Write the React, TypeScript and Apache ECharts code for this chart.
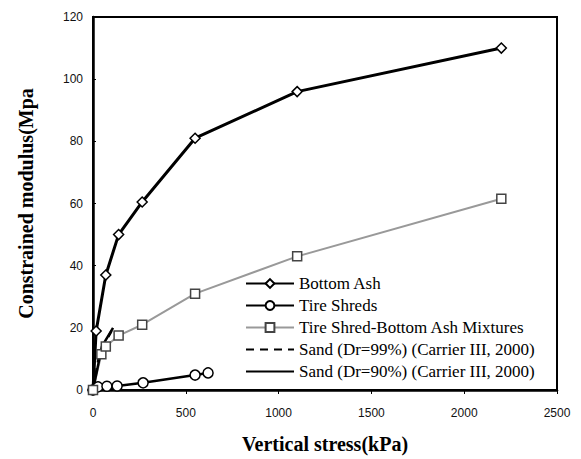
import React, { useEffect, useRef } from "react";
import * as echarts from "echarts";

const xTicks = [0, 500, 1000, 1500, 2000, 2500];
const yTicks = [0, 20, 40, 60, 80, 100, 120];

const bottomAsh: [number, number][] = [
  [0, 0], [17, 19], [69, 37], [138, 50], [265, 60.5], [550, 81], [1100, 96], [2200, 110],
];
const tireShreds: [number, number][] = [
  [0, 0], [27, 1], [75, 1.2], [130, 1.3], [270, 2.3], [550, 4.8], [620, 5.5],
];
const mixtures: [number, number][] = [
  [0, 0], [45, 11.5], [69, 14], [138, 17.5], [265, 21], [550, 31], [1100, 43], [2200, 61.5],
];
const sand99: [number, number][] = [[0, 0], [35, 12], [100, 19]];
const sand90: [number, number][] = [[0, 0], [48, 14], [108, 20]];

const names = [
  "Bottom Ash",
  "Tire Shreds",
  "Tire Shred-Bottom Ash Mixtures",
  "Sand (Dr=99%) (Carrier III, 2000)",
  "Sand (Dr=90%) (Carrier III, 2000)",
];

export default function App() {
  const ref = useRef<HTMLDivElement>(null);
  useEffect(() => {
    if (!ref.current) return;
    const chart = echarts.init(ref.current, null, { renderer: "svg" });
    const serif = "Liberation Serif";
    chart.setOption({
      animation: false,
      backgroundColor: "#fff",
      grid: {
        left: 93, right: 24, top: 17, bottom: 63,
        show: true, borderColor: "#000", borderWidth: 2, backgroundColor: "transparent",
      },
      xAxis: {
        type: "value", min: 0, max: 2500, interval: 500,
        name: "Vertical stress(kPa)", nameLocation: "middle", nameGap: 44,
        nameTextStyle: { fontFamily: serif, fontWeight: "bold", fontSize: 20, color: "#000" },
        axisLine: { show: true, lineStyle: { color: "#000", width: 2.5 } },
        axisTick: { show: true, length: 4, lineStyle: { color: "#000" } },
        axisLabel: { fontFamily: "Liberation Sans", fontSize: 12, color: "#111", margin: 17,
          formatter: (v: number) => (xTicks.includes(v) ? String(v) : "") },
        splitLine: { show: false },
      },
      yAxis: {
        type: "value", min: 0, max: 120, interval: 20,
        name: "Constrained modulus(Mpa", nameLocation: "middle", nameGap: 57,
        nameTextStyle: { fontFamily: serif, fontWeight: "bold", fontSize: 20, color: "#000" },
        axisLine: { show: true, lineStyle: { color: "#000", width: 2.5 } },
        axisTick: { show: true, length: 3, inside: true, lineStyle: { color: "#000" } },
        axisLabel: { fontFamily: "Liberation Sans", fontSize: 12, color: "#111", margin: 10,
          formatter: (v: number) => (yTicks.includes(v) ? String(v) : "") },
        splitLine: { show: false },
      },
      legend: {
        data: [
          { name: names[0] },
          { name: names[1] },
          { name: names[2] },
          { name: names[3], itemStyle: { opacity: 0 } },
          { name: names[4], itemStyle: { opacity: 0 } },
        ],
        orient: "vertical",
        left: 240, bottom: 75,
        backgroundColor: "transparent",
        borderWidth: 0,
        padding: [4, 4, 4, 5],
        itemWidth: 48, itemHeight: 11, itemGap: 5,
        textStyle: { fontFamily: serif, fontSize: 17, color: "#000", lineHeight: 17 },
      },
      series: [
        {
          name: names[0], type: "line", data: bottomAsh, symbol: "diamond", symbolSize: 10,
          lineStyle: { color: "#000", width: 3 },
          itemStyle: { color: "#fff", borderColor: "#000", borderWidth: 1.5 },
        },
        {
          name: names[1], type: "line", data: tireShreds, symbol: "circle", symbolSize: 10,
          lineStyle: { color: "#000", width: 2.5 },
          itemStyle: { color: "#fff", borderColor: "#000", borderWidth: 1.5 },
        },
        {
          name: names[2], type: "line", data: mixtures, symbol: "rect", symbolSize: 9,
          lineStyle: { color: "#999", width: 2 },
          itemStyle: { color: "#fff", borderColor: "#444", borderWidth: 1.5 },
        },
        {
          name: names[3], type: "line", data: sand99, symbol: "none",
          lineStyle: { color: "#000", width: 2.5, type: [8, 6] },
          itemStyle: { color: "#000" },
        },
        {
          name: names[4], type: "line", data: sand90, symbol: "none",
          lineStyle: { color: "#000", width: 2.5 },
          itemStyle: { color: "#000" },
        },
      ],
    });
    return () => chart.dispose();
  }, []);
  return <div ref={ref} style={{ width: 581, height: 459, position: "absolute", left: 0, top: 0 }} />;
}
